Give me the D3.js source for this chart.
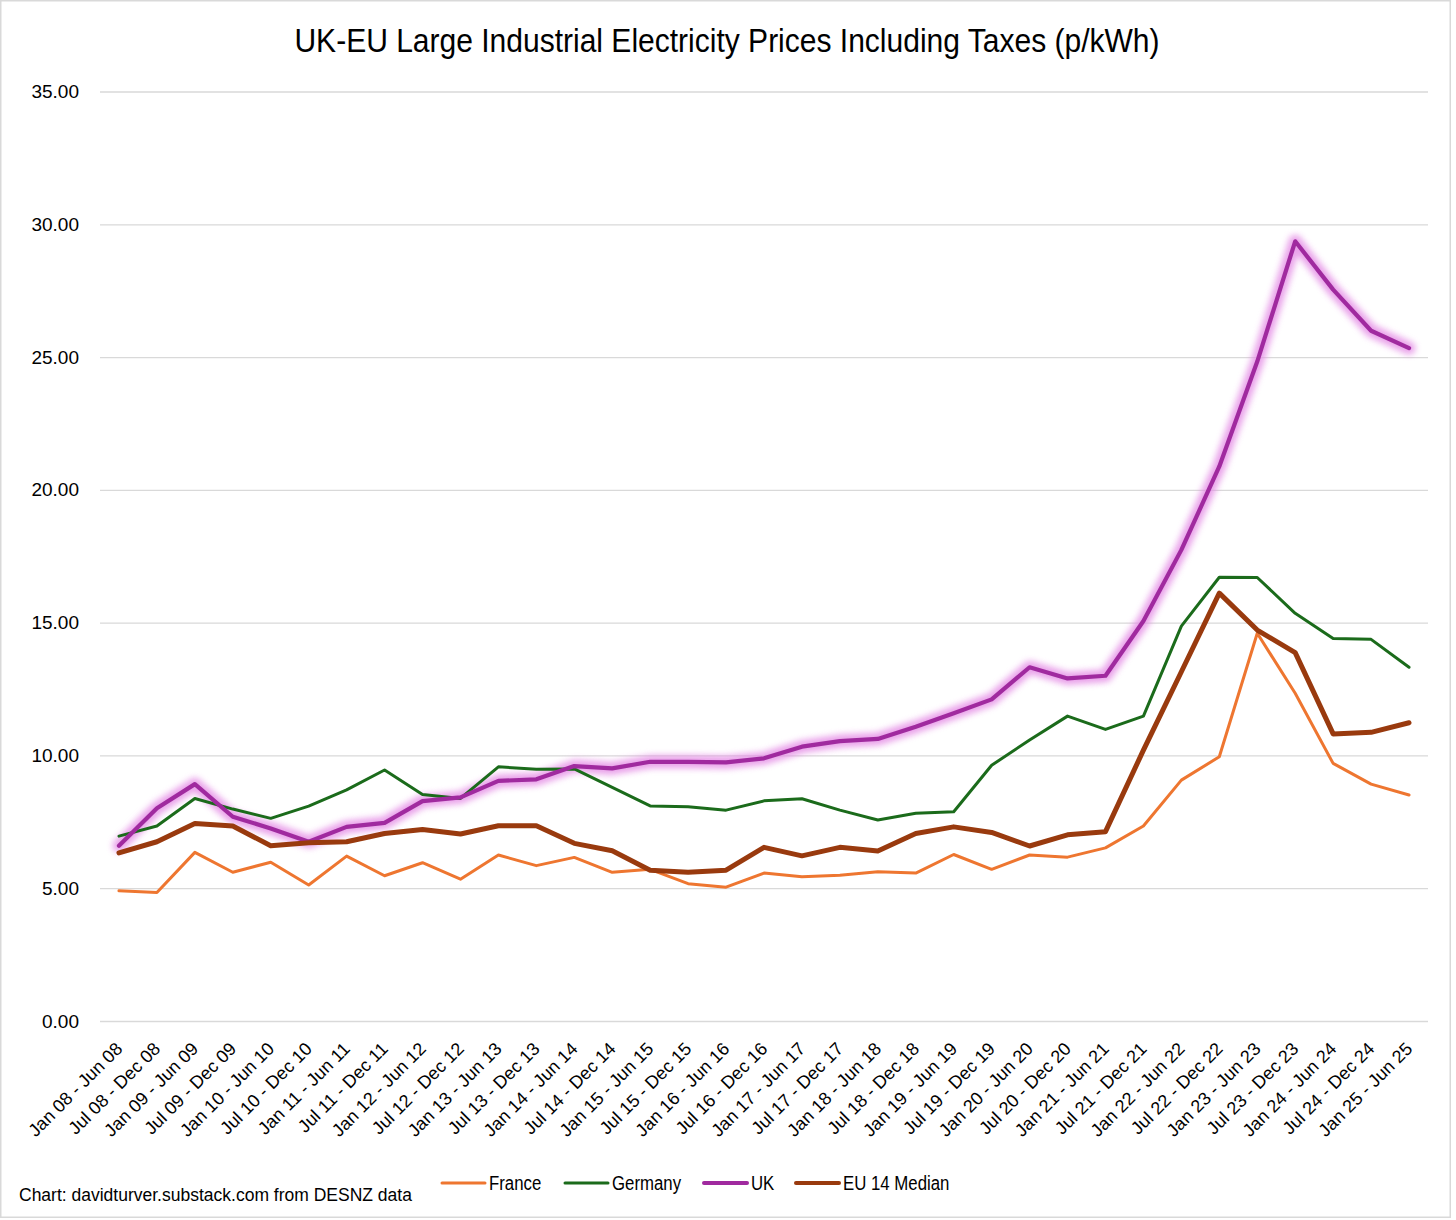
<!DOCTYPE html>
<html>
<head>
<meta charset="utf-8">
<script src="https://cdn.jsdelivr.net/npm/d3@7"></script>
<style>
  body { margin: 0; background: #fff; }
  svg { display: block; }
</style>
</head>
<body>
<div id="chart"></div>
<script>
// half-year periods
const periods = [
  "Jan 08 - Jun 08", "Jul 08 - Dec 08", "Jan 09 - Jun 09", "Jul 09 - Dec 09",
  "Jan 10 - Jun 10", "Jul 10 - Dec 10", "Jan 11 - Jun 11", "Jul 11 - Dec 11",
  "Jan 12 - Jun 12", "Jul 12 - Dec 12", "Jan 13 - Jun 13", "Jul 13 - Dec 13",
  "Jan 14 - Jun 14", "Jul 14 - Dec 14", "Jan 15 - Jun 15", "Jul 15 - Dec 15",
  "Jan 16 - Jun 16", "Jul 16 - Dec 16", "Jan 17 - Jun 17", "Jul 17 - Dec 17",
  "Jan 18 - Jun 18", "Jul 18 - Dec 18", "Jan 19 - Jun 19", "Jul 19 - Dec 19",
  "Jan 20 - Jun 20", "Jul 20 - Dec 20", "Jan 21 - Jun 21", "Jul 21 - Dec 21",
  "Jan 22 - Jun 22", "Jul 22 - Dec 22", "Jan 23 - Jun 23", "Jul 23 - Dec 23",
  "Jan 24 - Jun 24", "Jul 24 - Dec 24", "Jan 25 - Jun 25"
];

// p/kWh
const france = [4.90, 4.84, 6.35, 5.60, 5.98, 5.12, 6.21, 5.47, 5.96, 5.34,
  6.25, 5.85, 6.16, 5.60, 5.71, 5.17, 5.04, 5.57, 5.43, 5.49,
  5.62, 5.57, 6.27, 5.71, 6.25, 6.17, 6.52, 7.34, 9.07, 9.95,
  14.60, 12.34, 9.70, 8.92, 8.51];
const germany = [6.96, 7.34, 8.38, 7.98, 7.63, 8.09, 8.70, 9.45, 8.53, 8.38,
  9.57, 9.48, 9.49, 8.80, 8.10, 8.07, 7.94, 8.29, 8.37, 7.94,
  7.57, 7.82, 7.88, 9.63, 10.58, 11.48, 10.98, 11.48, 14.87, 16.71,
  16.70, 15.35, 14.40, 14.37, 13.32];
const uk = [6.60, 8.01, 8.92, 7.69, 7.25, 6.75, 7.31, 7.46, 8.28, 8.42,
  9.04, 9.10, 9.60, 9.51, 9.76, 9.76, 9.74, 9.89, 10.33, 10.54,
  10.62, 11.08, 11.59, 12.11, 13.32, 12.90, 13.00, 15.06, 17.74, 20.88,
  24.83, 29.36, 27.54, 25.99, 25.34];
const euMedian = [6.33, 6.75, 7.44, 7.34, 6.60, 6.71, 6.75, 7.06, 7.21, 7.04,
  7.35, 7.35, 6.69, 6.41, 5.68, 5.60, 5.68, 6.54, 6.22, 6.54,
  6.40, 7.06, 7.31, 7.10, 6.59, 7.01, 7.13, 10.20, 13.15, 16.11,
  14.72, 13.87, 10.81, 10.87, 11.23];

const yTicks = [0, 5, 10, 15, 20, 25, 30, 35];

const seriesNames = ["France", "Germany", "UK", "EU 14 Median"];
const seriesValues = [france, germany, uk, euMedian];
const seriesColors = ["#ee7630", "#1b6b1b", "#a02a9f", "#993a0e"];
const seriesWidths = [3, 3, 4.2, 5];

const width = 1456, height = 1220;
const plot = { left: 100, right: 1428, top: 91.5, bottom: 1021 };
const regular = "'Liberation Sans', Arial, sans-serif";

const svg = d3.select("#chart").append("svg")
  .attr("width", width)
  .attr("height", height);

// glow for the UK line
const defs = svg.append("defs");
defs.append("filter").attr("id", "glow")
  .attr("x", "-10%").attr("y", "-10%").attr("width", "120%").attr("height", "120%")
  .append("feGaussianBlur").attr("stdDeviation", 3);

svg.append("rect")
  .attr("x", 0.75).attr("y", 0.75)
  .attr("width", 1449.5).attr("height", 1216.5)
  .attr("fill", "#fff")
  .attr("stroke", "#d9d9d9")
  .attr("stroke-width", 1.5);

const x = d3.scalePoint()
  .domain(periods)
  .range([plot.left, plot.right])
  .padding(0.5);

const y = d3.scaleLinear()
  .domain([0, 35])
  .range([plot.bottom, plot.top]);

// title (narrowed a bit to look like the condensed original)
svg.append("text")
  .attr("transform", "translate(727,52) scale(0.91,1)")
  .attr("text-anchor", "middle")
  .style("font-family", regular)
  .style("font-size", "33px")
  .attr("fill", "#000")
  .text("UK-EU Large Industrial Electricity Prices Including Taxes (p/kWh)");

// gridlines + y labels
const yAxis = svg.append("g")
  .attr("transform", `translate(${plot.left},0)`)
  .call(d3.axisLeft(y)
    .tickValues(yTicks)
    .tickSize(-(plot.right - plot.left))
    .tickPadding(21)
    .tickFormat(d3.format(".2f")));
yAxis.select(".domain").remove();
yAxis.selectAll(".tick line").attr("stroke", "#d9d9d9").attr("stroke-width", 1.3);
yAxis.selectAll(".tick text")
  .style("font-family", regular)
  .style("font-size", "19px")
  .attr("fill", "#000");

// x labels
const xAxis = svg.append("g")
  .attr("transform", `translate(0,${plot.bottom})`)
  .call(d3.axisBottom(x).tickSize(0).tickPadding(0));
xAxis.select(".domain").remove();
xAxis.selectAll(".tick text")
  .style("font-family", regular)
  .style("font-size", "18px")
  .attr("fill", "#000")
  .attr("text-anchor", "end")
  .attr("dy", null)
  .attr("y", 0)
  .attr("transform", "translate(4,29) rotate(-45)");

const line = d3.line()
  .x((d, i) => x(periods[i]))
  .y(d => y(d));

const lines = svg.append("g").attr("fill", "none")
  .attr("stroke-linejoin", "round").attr("stroke-linecap", "round");

// UK glow underneath everything
lines.append("path")
  .attr("d", line(uk))
  .attr("stroke", "#e48be5")
  .attr("stroke-width", 13)
  .attr("opacity", 0.8)
  .attr("filter", "url(#glow)");

seriesValues.forEach((vals, k) => {
  lines.append("path")
    .attr("d", line(vals))
    .attr("stroke", seriesColors[k])
    .attr("stroke-width", seriesWidths[k]);
});

// legend
const legendX = [442, 565, 704, 796];
const legend = svg.append("g");
seriesNames.forEach((name, k) => {
  legend.append("line")
    .attr("x1", legendX[k]).attr("x2", legendX[k] + 43)
    .attr("y1", 1183).attr("y2", 1183)
    .attr("stroke", seriesColors[k])
    .attr("stroke-width", k < 2 ? 3 : 4)
    .attr("stroke-linecap", "round");
  legend.append("text")
    .attr("transform", `translate(${legendX[k] + 47},1190) scale(0.8,1)`)
    .style("font-family", regular)
    .style("font-size", "21px")
    .attr("fill", "#000")
    .text(name);
});

// source note
svg.append("text")
  .attr("x", 19).attr("y", 1201)
  .style("font-family", regular)
  .style("font-size", "17.5px")
  .attr("fill", "#000")
  .text("Chart: davidturver.substack.com from DESNZ data");
</script>
</body>
</html>
